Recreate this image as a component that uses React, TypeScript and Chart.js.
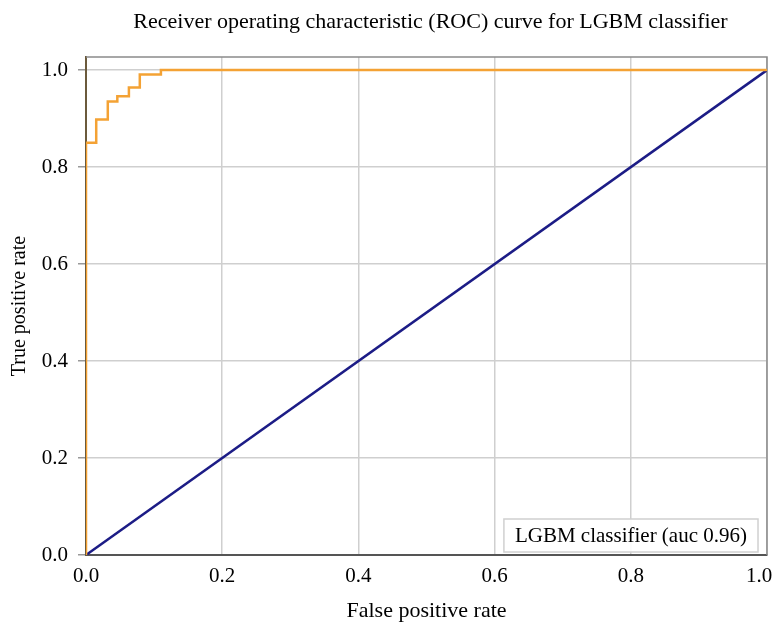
import React, { useEffect, useRef } from "react";
import { Chart, registerables } from "chart.js";

Chart.register(...registerables);

const rocFpr = [0, 0, 0.015, 0.015, 0.032, 0.032, 0.046, 0.046, 0.063, 0.063, 0.079, 0.079, 0.11, 0.11, 1.0];
const rocTpr = [0, 0.85, 0.85, 0.898, 0.898, 0.935, 0.935, 0.946, 0.946, 0.964, 0.964, 0.991, 0.991, 1.0, 1.0];
const chanceFpr = [0, 1];
const chanceTpr = [0, 1];
const tickValues = [0, 0.2, 0.4, 0.6, 0.8, 1.0];
const titleText = "Receiver operating characteristic (ROC) curve for LGBM classifier";
const legendText = "LGBM classifier (auc 0.96)";
const xTitle = "False positive rate";
const yTitle = "True positive rate";

const FONT = "'Liberation Serif', 'Times New Roman', serif";

export default function App() {
  const ref = useRef<HTMLCanvasElement | null>(null);
  useEffect(() => {
    document.body.style.margin = "0";
    const canvas = ref.current!;
    const framePlugin = {
      id: "frame",
      beforeDatasetsDraw(chart: any) {
        const { ctx, chartArea: a } = chart;
        ctx.save();
        ctx.strokeStyle = "#8a8a8a";
        ctx.lineWidth = 1.5;
        ctx.beginPath();
        ctx.moveTo(a.left, a.top);
        ctx.lineTo(a.right, a.top);
        ctx.lineTo(a.right, a.bottom);
        ctx.stroke();
        ctx.restore();
      },
      afterDraw(chart: any) {
        const { ctx, chartArea: a } = chart;
        ctx.save();
        // title
        ctx.fillStyle = "#000";
        ctx.font = `22px ${FONT}`;
        ctx.textAlign = "center";
        ctx.textBaseline = "middle";
        ctx.fillText(titleText, (a.left + a.right) / 2 + 4, 22);
        // legend
        ctx.font = `21px ${FONT}`;
        const w = ctx.measureText(legendText).width;
        const bw = w + 22;
        const bh = 33;
        const bx = a.right - 9 - bw;
        const by = a.bottom - 3 - bh;
        ctx.fillStyle = "rgba(255,255,255,0.9)";
        ctx.fillRect(bx, by, bw, bh);
        ctx.strokeStyle = "#d0d0d0";
        ctx.lineWidth = 1.5;
        ctx.strokeRect(bx, by, bw, bh);
        ctx.fillStyle = "#000";
        ctx.textAlign = "left";
        ctx.fillText(legendText, bx + 11, by + bh / 2 + 1);
        ctx.restore();
      },
    };
    const chart = new Chart(canvas, {
      type: "scatter",
      data: {
        datasets: [
          {
            label: "chance",
            data: chanceFpr.map((x, i) => ({ x, y: chanceTpr[i] })),
            showLine: true,
            borderColor: "#1c1c86",
            borderWidth: 2.5,
            pointRadius: 0,
            order: 2,
          },
          {
            label: legendText,
            data: rocFpr.map((x, i) => ({ x, y: rocTpr[i] })),
            showLine: true,
            borderColor: "#f4a234",
            borderWidth: 2.5,
            pointRadius: 0,
            order: 1,
          },
        ],
      },
      options: {
        animation: false,
        responsive: false,
        layout: { padding: { top: 57, right: 7, left: 0, bottom: 0 } },
        plugins: { legend: { display: false }, title: { display: false }, tooltip: { enabled: false } },
        scales: {
          x: {
            type: "linear",
            min: 0,
            max: 1,
            afterBuildTicks: (s: any) => {
              s.ticks = tickValues.map((v) => ({ value: v }));
            },
            afterFit: (s: any) => {
              s.height = 71;
              s.paddingLeft = 0;
              s.paddingRight = 0;
            },
            grid: { color: "#cfcfcf", lineWidth: 1.5, tickLength: 6, tickColor: "rgba(0,0,0,0)" },
            border: { color: "#555", width: 2 },
            ticks: {
              color: "#000",
              font: { family: FONT, size: 21 },
              padding: 3,
              maxRotation: 0,
              callback: (v: any) => (Number(v) === 1 ? "1.0   " : Number(v).toFixed(1)),
            },
            title: {
              display: true,
              text: xTitle,
              color: "#000",
              font: { family: FONT, size: 22 },
              padding: { top: 0, bottom: 2 },
            },
          },
          y: {
            type: "linear",
            min: 0,
            max: 1.027,
            afterBuildTicks: (s: any) => {
              s.ticks = tickValues.map((v) => ({ value: v }));
            },
            afterFit: (s: any) => {
              s.width = 86;
              s.paddingTop = 0;
              s.paddingBottom = 0;
            },
            grid: { color: "#cfcfcf", lineWidth: 1.5, tickLength: 8, tickColor: "#999" },
            border: { color: "#6b5a3c", width: 2 },
            ticks: {
              color: "#000",
              font: { family: FONT, size: 21 },
              padding: 10,
              callback: (v: any) => Number(v).toFixed(1),
            },
            title: {
              display: true,
              text: yTitle,
              color: "#000",
              font: { family: FONT, size: 20 },
              padding: { top: 8, bottom: 0 },
            },
          },
        },
      },
      plugins: [framePlugin],
    } as any);
    return () => chart.destroy();
  }, []);
  return <canvas ref={ref} width={774} height={626} style={{ display: "block", width: 774, height: 626 }} />;
}
